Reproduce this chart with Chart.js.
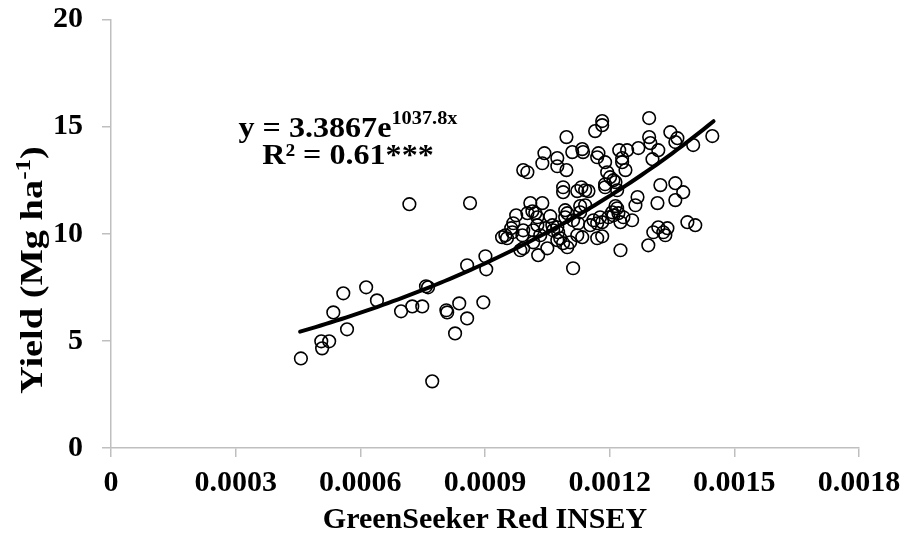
<!DOCTYPE html>
<html><head><meta charset="utf-8">
<script src="https://cdn.jsdelivr.net/npm/chart.js@4"></script>
<style>html,body{margin:0;padding:0;background:#fff}#wrap{width:906px;height:548px;position:relative}</style>
</head><body><div id="wrap"><canvas id="c" width="906" height="548"></canvas></div>
<script>
const insey = [
0.000457,0.000506,0.000525,0.000508,0.000535,0.000559,0.000568,0.000614,0.000640,0.000698,
0.000725,0.000749,0.000758,0.000763,0.000773,0.000718,0.000807,0.000809,0.000838,0.000857,
0.000828,0.000896,0.000857,0.000901,0.000903,0.000864,0.000949,0.000953,0.000941,0.000963,
0.000966,0.000968,0.000975,0.000990,0.000985,0.000992,0.000992,0.000992,0.001002,0.001009,
0.001014,0.001021,0.001002,0.001016,0.001016,0.001028,0.001033,0.001026,0.001038,0.001026,
0.001043,0.001038,0.001045,0.001050,0.001057,0.001062,0.001064,0.001074,0.001074,0.001074,
0.001076,0.001074,0.001081,0.001088,0.001098,0.001105,0.001096,0.001096,0.001088,0.001088,
0.001093,0.001098,0.001093,0.001110,0.001112,0.001112,0.001124,0.001122,0.001132,0.001141,
0.001149,0.001122,0.001129,0.001141,0.001129,0.001134,0.001136,0.001161,0.001170,0.001153,
0.001182,0.001177,0.001170,0.001182,0.001134,0.001165,0.001182,0.001182,0.001173,0.001170,
0.001189,0.001194,0.001201,0.001189,0.001209,0.001189,0.001214,0.001218,0.001214,0.001218,
0.001206,0.001221,0.001233,0.001197,0.001209,0.001226,0.001226,0.001223,0.001242,0.001230,
0.001230,0.001238,0.001254,0.001267,0.001262,0.001269,0.001295,0.001295,0.001298,0.001303,
0.001317,0.001322,0.001315,0.001293,0.001305,0.001317,0.001329,0.001339,0.001334,0.001346,
0.001363,0.001358,0.001358,0.001377,0.001358,0.001387,0.001406,0.001401,0.001447
];
const yieldVals = [
4.18,4.98,4.98,4.65,6.33,7.22,5.54,7.50,6.89,6.38,
6.61,6.61,7.55,7.50,3.11,11.38,6.43,6.33,6.75,6.05,
5.35,6.80,8.53,8.95,8.34,11.43,9.93,9.79,9.84,10.26,
10.07,10.49,10.86,9.93,9.23,9.32,10.16,12.97,12.87,11.43,
11.05,10.96,10.96,10.16,9.60,9.00,9.93,10.40,11.43,10.77,
13.76,13.29,10.26,9.32,10.82,10.40,10.16,13.53,13.15,10.30,
10.07,9.70,9.79,9.56,9.37,9.60,14.51,12.97,12.17,11.94,
11.10,10.96,10.77,13.81,8.39,10.63,10.49,9.93,12.17,12.03,
11.99,11.99,11.29,11.33,11.00,13.95,13.81,10.63,10.49,10.40,
10.54,10.77,9.79,9.88,9.84,14.79,15.26,15.07,13.76,13.57,
13.34,12.87,12.64,12.31,12.50,12.17,12.41,12.03,11.29,11.19,
11.00,10.96,10.77,10.77,10.86,10.54,9.23,13.90,13.90,13.53,
13.34,12.97,10.63,11.71,11.33,14.00,15.40,14.51,14.23,13.48,
13.90,12.27,11.43,9.46,10.07,10.30,10.07,10.26,9.93,14.74,
14.46,14.28,12.36,11.94,11.57,10.54,10.40,14.14,14.56
];
const xTickLabels = ['0','0.0003','0.0006','0.0009','0.0012','0.0015','0.0018'];
const yTickLabels = ['0','5','10','15','20'];
const xTitle = 'GreenSeeker Red INSEY';
const yTitleParts = ['Yield (Mg ha', '-1', ')'];
const trendA = 3.3867, trendB = 1037.8;
const trendRange = [0.000455, 0.00145];
const eqLine1 = ['y = 3.3867e', '1037.8x'];
const eqLine2 = 'R\u00B2 = 0.61***';

const FAM = "'Liberation Serif','Times New Roman',serif";
const scatterData = insey.map((x, i) => ({x: x, y: yieldVals[i]}));
const trendData = [];
for (let i = 0; i <= 80; i++) {
  const x = trendRange[0] + (trendRange[1] - trendRange[0]) * i / 80;
  trendData.push({x: x, y: trendA * Math.exp(trendB * x)});
}

const textPlugin = {
  id: 'texts',
  afterDraw(chart) {
    const ctx = chart.ctx;
    ctx.save();
    ctx.fillStyle = '#000';
    ctx.textBaseline = 'alphabetic';
    const big = 'bold 30px ' + FAM, small = 'bold 19px ' + FAM;
    ctx.save();
    ctx.translate(348, 0);
    ctx.scale(1.07, 1);
    ctx.font = big; const w1 = ctx.measureText(eqLine1[0]).width;
    ctx.font = small; const w2 = ctx.measureText(eqLine1[1]).width;
    let x0 = -(w1 + w2) / 2;
    ctx.font = big; ctx.textAlign = 'left';
    ctx.fillText(eqLine1[0], x0, 137);
    ctx.font = small;
    ctx.fillText(eqLine1[1], x0 + w1, 124);
    ctx.font = big; ctx.textAlign = 'center';
    ctx.fillText(eqLine2, 0, 164);
    ctx.restore();
    const ybig = 'bold 32px ' + FAM, ysmall = 'bold 21px ' + FAM;
    ctx.translate(42, 270);
    ctx.rotate(-Math.PI / 2);
    ctx.scale(1.2, 1);
    ctx.font = ybig; const a = ctx.measureText(yTitleParts[0]).width;
    const c = ctx.measureText(yTitleParts[2]).width;
    ctx.font = ysmall; const b = ctx.measureText(yTitleParts[1]).width;
    let s = -(a + b + c) / 2;
    ctx.textAlign = 'left';
    ctx.font = ybig; ctx.fillText(yTitleParts[0], s, 0);
    ctx.font = ysmall; ctx.fillText(yTitleParts[1], s + a, -12);
    ctx.font = ybig; ctx.fillText(yTitleParts[2], s + a + b, 0);
    ctx.restore();
  }
};

new Chart(document.getElementById('c'), {
  type: 'scatter',
  data: {
    datasets: [
      {
        type: 'line', data: trendData, borderColor: '#000', borderWidth: 4,
        pointRadius: 0, fill: false, tension: 0, order: 0, borderCapStyle: 'round'
      },
      {
        data: scatterData, pointStyle: 'circle', pointRadius: 6.3,
        pointBorderWidth: 1.6, pointBorderColor: '#000',
        pointBackgroundColor: 'rgba(0,0,0,0)', showLine: false, order: 1
      }
    ]
  },
  options: {
    responsive: false, animation: false, devicePixelRatio: 1,
    events: [],
    layout: {padding: {top: 19.5, right: 47, left: 0, bottom: 0}},
    plugins: {legend: {display: false}, tooltip: {enabled: false}},
    scales: {
      x: {
        type: 'linear', min: 0, max: 0.0018,
        afterFit(s) { s.height = 100; s.paddingLeft = 0; s.paddingRight = 0; },
        ticks: {
          stepSize: 0.0003, padding: 8, color: '#000',
          font: {family: FAM, size: 30, weight: 'bold'},
          callback: (v, i) => xTickLabels[i]
        },
        grid: {drawOnChartArea: false, drawTicks: true, tickLength: 9, color: '#bfbfbf', lineWidth: 1.5},
        border: {display: true, color: '#bfbfbf', width: 1.5},
        title: {display: true, text: xTitle, color: '#000',
          font: {family: FAM, size: 30, weight: 'bold'}, padding: {top: 0, bottom: 10}}
      },
      y: {
        type: 'linear', min: 0, max: 20,
        afterFit(s) { s.width = 111; s.paddingTop = 0; s.paddingBottom = 0; },
        ticks: {
          stepSize: 5, padding: 19, color: '#000',
          font: {family: FAM, size: 30, weight: 'bold'},
          callback: (v, i) => yTickLabels[i]
        },
        grid: {drawOnChartArea: false, drawTicks: true, tickLength: 9, color: '#bfbfbf', lineWidth: 1.5},
        border: {display: true, color: '#bfbfbf', width: 1.5}
      }
    }
  },
  plugins: [textPlugin]
});
</script>
</body></html>
